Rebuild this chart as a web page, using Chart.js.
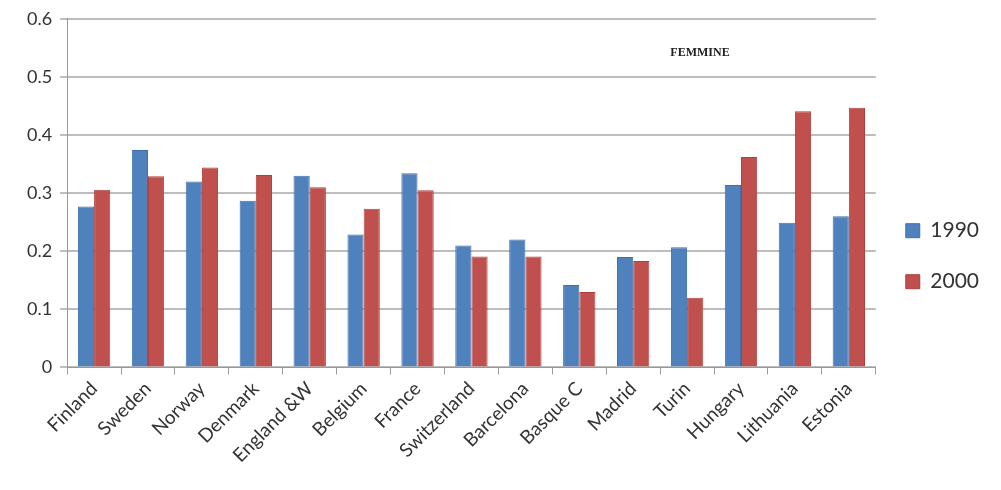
<!DOCTYPE html>
<html>
<head>
<meta charset="utf-8">
<script src="https://cdn.jsdelivr.net/npm/chart.js@4/dist/chart.umd.min.js"></script>
<style>
  html, body { margin: 0; padding: 0; background: #fff; }
  #wrap { width: 1001px; height: 490px; position: relative; }
</style>
</head>
<body>
<div id="wrap"><canvas id="femmineChart"></canvas></div>
<script>
const paesi = ['Finland', 'Sweden', 'Norway', 'Denmark', 'England &W', 'Belgium', 'France',
    'Switzerland', 'Barcelona', 'Basque C', 'Madrid', 'Turin', 'Hungary', 'Lithuania', 'Estonia'];
const valori1990 = [0.277, 0.374, 0.32, 0.287, 0.33, 0.229, 0.334, 0.21, 0.22, 0.142, 0.19, 0.207, 0.314, 0.249, 0.26];
const valori2000 = [0.306, 0.329, 0.344, 0.331, 0.31, 0.273, 0.305, 0.191, 0.191, 0.13, 0.183, 0.12, 0.362, 0.441, 0.447];
const tickY = [0, 0.1, 0.2, 0.3, 0.4, 0.5, 0.6];

// scritta "FEMMINE" dentro l'area del grafico
const titoloInterno = {
    id: 'titoloInterno',
    afterDraw(chart) {
        const { ctx } = chart;
        ctx.save();
        ctx.font = 'bold 12px "Liberation Serif", serif';
        ctx.fillStyle = '#222';
        ctx.textAlign = 'center';
        ctx.fillText('FEMMINE', 700, 56);
        ctx.restore();
    }
};

const ctx = document.getElementById('femmineChart');
new Chart(ctx, {
    type: 'bar',
    data: {
        labels: paesi,
        datasets: [
            {
                label: '1990',
                data: valori1990,
                backgroundColor: '#4f81bd',
                borderColor: '#3f70ad',
                borderWidth: 1,
                categoryPercentage: 0.6,
                barPercentage: 1
            },
            {
                label: '2000',
                data: valori2000,
                backgroundColor: '#c0504d',
                borderColor: '#b0403d',
                borderWidth: 1,
                categoryPercentage: 0.6,
                barPercentage: 1
            }
        ]
    },
    options: {
        responsive: true,
        maintainAspectRatio: false,
        animation: false,
        layout: { padding: { top: 8, right: 12, left: 19, bottom: 20 } },
        plugins: {
            legend: {
                position: 'right',
                // titolo vuoto solo per abbassare la legenda
                title: { display: true, text: ' ', font: { size: 12 }, padding: { top: 10, bottom: 10 } },
                labels: {
                    boxWidth: 14,
                    boxHeight: 14,
                    padding: 30,
                    color: '#333',
                    font: { family: 'Lato, "Open Sans", sans-serif', size: 21 }
                }
            },
            tooltip: { enabled: false }
        },
        scales: {
            x: {
                grid: {
                    drawOnChartArea: false,
                    color: '#999',
                    tickLength: 7
                },
                border: { color: '#999', width: 1 },
                ticks: {
                    maxRotation: 45,
                    minRotation: 45,
                    color: '#333',
                    font: { family: 'Lato, "Open Sans", sans-serif', size: 19 }
                }
            },
            y: {
                min: 0,
                max: 0.6,
                afterBuildTicks: (axis) => { axis.ticks = tickY.map(v => ({ value: v })); },
                grid: {
                    color: '#bdbdbd',
                    lineWidth: 2,
                    tickLength: 7
                },
                border: { color: '#999', width: 1 },
                ticks: {
                    color: '#333',
                    padding: 8,
                    font: { family: 'Lato, "Open Sans", sans-serif', size: 18 },
                    callback: (v) => v === 0 ? '0' : v.toFixed(1)
                }
            }
        }
    },
    plugins: [titoloInterno]
});
</script>
</body>
</html>
